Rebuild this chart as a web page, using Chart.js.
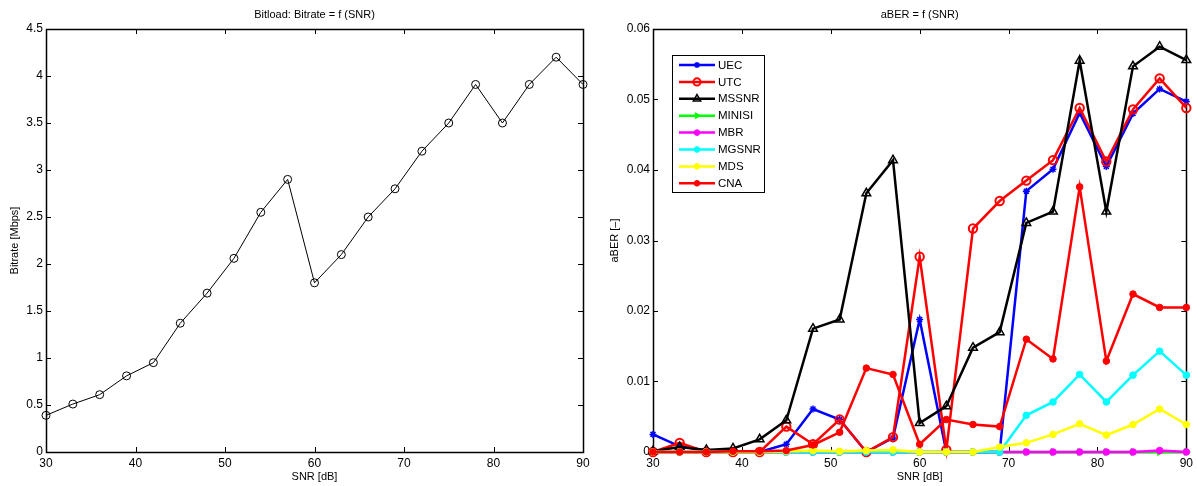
<!DOCTYPE html>
<html>
<head>
<meta charset="utf-8">
<title>Bitload / aBER vs SNR</title>
<script src="https://cdn.jsdelivr.net/npm/chart.js@4.4.1/dist/chart.umd.min.js"></script>
<style>
  body { margin: 0; background: #fff; }
  #wrap { position: relative; width: 1197px; height: 486px; overflow: hidden; }
  canvas { position: absolute; top: 0; }
  #bitrateChart { left: 0; }
  #aberChart { left: 600px; }
</style>
</head>
<body>
<div id="wrap">
  <canvas id="bitrateChart" width="600" height="486"></canvas>
  <canvas id="aberChart" width="597" height="486"></canvas>
</div>
<script>
// SNR steps in dB (shared by both plots)
const snr = [30, 33, 36, 39, 42, 45, 48, 51, 54, 57, 60, 63, 66, 69, 72, 75, 78, 81, 84, 87, 90];

// bitload result in Mbps
const bitrate = [0.39, 0.51, 0.61, 0.81, 0.95, 1.37, 1.69, 2.06, 2.55, 2.90, 1.80,
                 2.10, 2.50, 2.80, 3.20, 3.50, 3.91, 3.50, 3.91, 4.20, 3.91];

// average BER per equalizer design method
const aberUEC    = [0.0025, 0.0008, 0.0002, 0.0001, 0, 0.0011, 0.0061, 0.0046, 0, 0.0020, 0.0188,
                    0, 0, 0, 0.0370, 0.0401, 0.0481, 0.0405, 0.0480, 0.0515, 0.0497];
const aberUTC    = [0, 0.0013, 0, 0, 0, 0.0036, 0.0011, 0.0046, 0, 0.0021, 0.0277,
                    0.0003, 0.0317, 0.0356, 0.0385, 0.0414, 0.0488, 0.0412, 0.0486, 0.0530, 0.0488];
const aberMSSNR  = [0.0001, 0.0007, 0.0003, 0.0005, 0.0018, 0.0045, 0.0175, 0.0188, 0.0367, 0.0414, 0.0041,
                    0.0065, 0.0148, 0.0170, 0.0325, 0.0341, 0.0555, 0.0341, 0.0547, 0.0575, 0.0556];
const aberMINISI = [0, 0, 0, 0, 0, 0, 0, 0, 0, 0, 0, 0, 0, 0, 0, 0, 0, 0, 0, 0, 0];
const aberMBR    = [0, 0, 0, 0, 0, 0, 0, 0, 0, 0, 0, 0, 0, 0, 0, 0, 0, 0, 0, 0.0002, 0];
const aberMGSNR  = [0, 0, 0, 0, 0, 0, 0, 0, 0, 0, 0, 0, 0, 0,
                    0.0052, 0.0071, 0.0110, 0.0071, 0.0109, 0.0143, 0.0109];
const aberMDS    = [0, 0, 0, 0, 0, 0.0001, 0.0002, 0.0001, 0.0002, 0.0003, 0,
                    0, 0, 0.0007, 0.0013, 0.0025, 0.0040, 0.0024, 0.0039, 0.0061, 0.0039];
const aberCNA    = [0, 0, 0, 0.0001, 0.0001, 0.0002, 0.0010, 0.0028, 0.0119, 0.0110, 0.0011,
                    0.0046, 0.0039, 0.0036, 0.0160, 0.0132, 0.0376, 0.0129, 0.0224, 0.0205, 0.0205];

const FONT = 'Liberation Sans, Arial, Helvetica, sans-serif';

function toPoints(values) {
    return values.map((v, i) => ({ x: snr[i], y: v }));
}

// plain numbers, no padded decimals: 0, 0.5, 1, 0.01 ...
function tickText(value) {
    return String(parseFloat(Number(value).toFixed(6)));
}

// axes box with inward ticks on all four sides
const axesFrame = {
    id: 'axesFrame',
    beforeDatasetsDraw(chart) {
        const { ctx, chartArea: a, scales } = chart;
        const tick = 5;
        ctx.save();
        ctx.strokeStyle = '#000';
        ctx.lineWidth = 1;
        ctx.beginPath();
        scales.x.ticks.forEach(t => {
            const px = Math.round(scales.x.getPixelForValue(t.value)) + 0.5;
            ctx.moveTo(px, a.bottom); ctx.lineTo(px, a.bottom - tick);
            ctx.moveTo(px, a.top); ctx.lineTo(px, a.top + tick);
        });
        scales.y.ticks.forEach(t => {
            const py = Math.round(scales.y.getPixelForValue(t.value)) + 0.5;
            ctx.moveTo(a.left, py); ctx.lineTo(a.left + tick, py);
            ctx.moveTo(a.right, py); ctx.lineTo(a.right - tick, py);
        });
        ctx.stroke();
        ctx.lineWidth = 1.5;
        ctx.strokeRect(Math.round(a.left) + 0.5, Math.round(a.top) + 0.5,
                       Math.round(a.right - a.left), Math.round(a.bottom - a.top));
        ctx.restore();
    }
};

// title centred over the plot area
const plotTitle = {
    id: 'plotTitle',
    afterDraw(chart, args, opts) {
        const { ctx, chartArea: a } = chart;
        ctx.save();
        ctx.font = '11px ' + FONT;
        ctx.fillStyle = '#000';
        ctx.textAlign = 'center';
        ctx.textBaseline = 'middle';
        ctx.fillText(opts.text, (a.left + a.right) / 2, 15);
        ctx.restore();
    }
};

// boxed legend inside the plot, top-left corner
const boxLegend = {
    id: 'boxLegend',
    afterDraw(chart, args, opts) {
        if (!opts.show) return;
        const { ctx } = chart;
        const left = 72, top = 55, width = 92, height = 137;
        const rowH = 16.9;
        ctx.save();
        ctx.fillStyle = '#fff';
        ctx.fillRect(left, top, width, height);
        ctx.strokeStyle = '#000';
        ctx.lineWidth = 1;
        ctx.strokeRect(left + 0.5, top + 0.5, width, height);
        ctx.font = '11.5px ' + FONT;
        ctx.textBaseline = 'middle';
        chart.data.datasets.forEach((ds, i) => {
            const y = top + 10 + i * rowH;
            ctx.strokeStyle = ds.borderColor;
            ctx.lineWidth = ds.borderWidth;
            ctx.beginPath();
            ctx.moveTo(left + 7, y);
            ctx.lineTo(left + 43, y);
            ctx.stroke();
            ctx.fillStyle = ds.pointBackgroundColor;
            ctx.strokeStyle = ds.borderColor;
            ctx.lineWidth = ds.pointBorderWidth;
            Chart.helpers.drawPoint(ctx, {
                pointStyle: ds.pointStyle,
                radius: ds.pointRadius * 0.85,
                rotation: ds.pointRotation || 0,
                borderWidth: ds.pointBorderWidth
            }, left + 25, y);
            ctx.fillStyle = '#000';
            ctx.fillText(ds.label, left + 46, y + 0.5);
        });
        ctx.restore();
    }
};

function scaleSetup(min, max, step, title, yWidth) {
    return {
        x: {
            type: 'linear',
            min: 30, max: 90,
            grid: { display: false, drawTicks: false },
            border: { display: false },
            ticks: { stepSize: 10, padding: 4, color: '#000', font: { family: FONT, size: 12 },
                     callback: tickText },
            title: { display: true, text: 'SNR [dB]', color: '#000',
                     font: { family: FONT, size: 11 }, padding: { top: 0, bottom: 2 } },
            afterFit(scale) { scale.height = 34; }
        },
        y: {
            type: 'linear',
            min: min, max: max,
            grid: { display: false, drawTicks: false },
            border: { display: false },
            ticks: { stepSize: step, padding: 3, color: '#000', font: { family: FONT, size: 12 },
                     callback: tickText },
            title: { display: true, text: title, color: '#000',
                     font: { family: FONT, size: 11 }, padding: { top: 8, bottom: 0 } },
            afterFit(scale) { scale.width = yWidth; }
        }
    };
}

new Chart(document.getElementById('bitrateChart'), {
    type: 'line',
    data: {
        datasets: [{
            label: 'Bitrate',
            data: toPoints(bitrate),
            borderColor: '#000',
            borderWidth: 1,
            pointStyle: 'circle',
            pointRadius: 4,
            pointBorderWidth: 1,
            pointBorderColor: '#000',
            pointBackgroundColor: 'rgba(0,0,0,0)',
            tension: 0,
            clip: false
        }]
    },
    options: {
        responsive: false,
        animation: false,
        events: [],
        layout: { padding: { left: 0, right: 17, top: 29, bottom: 0 } },
        scales: scaleSetup(0, 4.5, 0.5, 'Bitrate [Mbps]', 46),
        plugins: {
            legend: { display: false },
            tooltip: { enabled: false },
            plotTitle: { text: 'Bitload: Bitrate = f (SNR)' },
            boxLegend: { show: false }
        }
    },
    plugins: [axesFrame, plotTitle, boxLegend]
});

function aberSeries(label, values, color, style, opts) {
    return Object.assign({
        label: label,
        data: toPoints(values),
        borderColor: color,
        borderWidth: 2.5,
        pointStyle: style,
        pointRadius: 3.3,
        pointBorderWidth: 1,
        pointBorderColor: color,
        pointBackgroundColor: color,
        tension: 0,
        clip: false
    }, opts || {});
}

const aberSets = [
    aberSeries('UEC', aberUEC, '#0000ff', 'star', { pointRadius: 3.5, pointBorderWidth: 1.5 }),
    aberSeries('UTC', aberUTC, '#ff0000', 'circle', { pointRadius: 4.2, pointBorderWidth: 2, pointBackgroundColor: 'rgba(0,0,0,0)' }),
    aberSeries('MSSNR', aberMSSNR, '#000000', 'triangle', { pointRadius: 5, pointBorderWidth: 1.5, pointBackgroundColor: 'rgba(0,0,0,0)' }),
    aberSeries('MINISI', aberMINISI, '#00ff00', 'triangle', { pointRadius: 4, pointRotation: 90 }),
    aberSeries('MBR', aberMBR, '#ff00ff', 'circle'),
    aberSeries('MGSNR', aberMGSNR, '#00ffff', 'circle'),
    aberSeries('MDS', aberMDS, '#ffff00', 'circle'),
    aberSeries('CNA', aberCNA, '#ff0000', 'circle')
];
// later series are drawn on top
aberSets.forEach((ds, i) => { ds.order = aberSets.length - i; });

new Chart(document.getElementById('aberChart'), {
    type: 'line',
    data: { datasets: aberSets },
    options: {
        responsive: false,
        animation: false,
        events: [],
        layout: { padding: { left: 0, right: 8, top: 29, bottom: 0 } },
        scales: scaleSetup(0, 0.06, 0.01, 'aBER [–]', 53),
        plugins: {
            legend: { display: false },
            tooltip: { enabled: false },
            plotTitle: { text: 'aBER = f (SNR)' },
            boxLegend: { show: true }
        }
    },
    plugins: [axesFrame, plotTitle, boxLegend]
});
</script>
</body>
</html>
